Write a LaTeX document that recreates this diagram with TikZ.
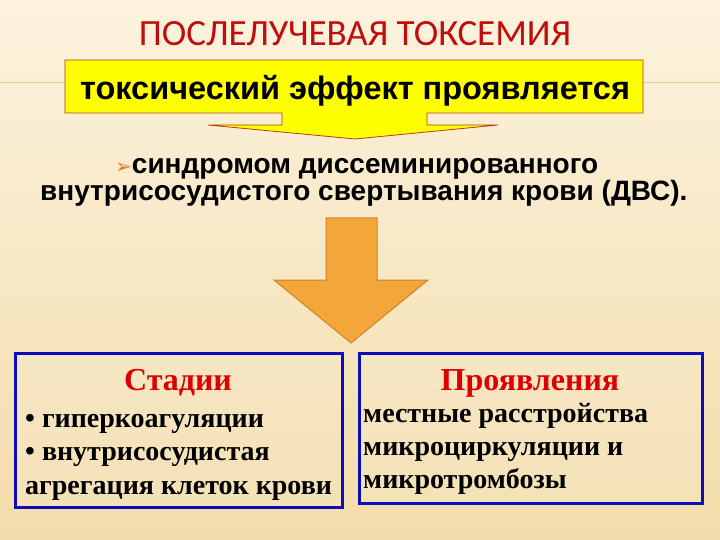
\documentclass[tikz,border=0pt]{standalone}
\usepackage{fontspec}
\setmainfont{Liberation Serif}
\newfontfamily\arialfont{Liberation Sans}
\newfontfamily\calibrifont{Carlito}
\newfontfamily\symbfont{DejaVu Sans}
\usepackage{tikz}
\usetikzlibrary{positioning}
\definecolor{bgtop}{RGB}{252,243,222}
\definecolor{bgbot}{RGB}{242,220,170}
\definecolor{bgline}{RGB}{234,206,150}
\definecolor{titlered}{RGB}{192,14,14}
\definecolor{labelred}{RGB}{222,0,0}
\definecolor{calloutyellow}{RGB}{255,255,0}
\definecolor{calloutedge}{RGB}{180,60,25}
\definecolor{arroworange}{RGB}{243,166,58}
\definecolor{arrowedge}{RGB}{206,132,40}
\definecolor{frameblue}{RGB}{12,12,185}
\definecolor{bulletorange}{RGB}{226,120,40}

\begin{document}
\begin{tikzpicture}[
    x=1pt, y=-1pt,
    headline/.style={font=\calibrifont\fontsize{37}{40}\selectfont, text=titlered, anchor=base, inner sep=0pt},
    calltext/.style={font=\arialfont\bfseries\fontsize{32.5}{36}\selectfont, anchor=base, inner sep=0pt},
    dvstext/.style={font=\arialfont\bfseries\fontsize{28}{30}\selectfont, anchor=base west, inner sep=0pt},
    framebox/.style={draw=frameblue, line width=3pt, fill=white, fill opacity=0.12, inner sep=0pt},
    boxhead/.style={font=\bfseries\fontsize{32}{34}\selectfont, text=labelred, anchor=base, inner sep=0pt},
    boxtext/.style={font=\bfseries\fontsize{28}{33}\selectfont, anchor=base west, inner sep=0pt}
]
    % background
    \shade[top color=bgtop, bottom color=bgbot] (0,0) rectangle (720,540);
    \useasboundingbox (0,0) rectangle (720,540);
    \draw[bgline, line width=1pt] (0,83) -- (720,83);

    \node[headline] (title) at (355,46) {ПОСЛЕЛУЧЕВАЯ ТОКСЕМИЯ};

    % callout
    \filldraw[fill=calloutyellow, draw=calloutedge, line width=0.8pt]
        (65,60) -- (643,60) -- (643,113) -- (427,113) -- (427,125) -- (498,125)
        -- (355,139) -- (208,125) -- (282,125) -- (282,113) -- (65,113) -- cycle;
    \node[calltext] (effect) at (355,100) {токсический эффект проявляется};

    \node[dvstext] (dvsA) at (115,174) {{\symbfont\color{bulletorange}\fontsize{20}{22}\selectfont ➢}синдромом диссеминированного};
    \node[dvstext] (dvsB) at (40,201) {внутрисосудистого свертывания крови (ДВС).};

    % block arrow
    \filldraw[fill=arroworange, draw=arrowedge, line width=1pt]
        (326,218) -- (377,218) -- (377,280) -- (428,280) -- (351,343)
        -- (274,280) -- (326,280) -- cycle;

    % two frames
    \node[framebox, minimum width=327pt, minimum height=154pt] (stages) at (178.5,430) {};
    \node[framebox, minimum width=343pt, minimum height=150pt] (signs) at (530.5,428) {};

    \node[boxhead] (stagehead) at (178,390) {Стадии};
    \node[boxtext] (stageA) at (25,427) {• гиперкоагуляции};
    \node[boxtext] (stageB) at (25,460) {• внутрисосудистая};
    \node[boxtext] (stageC) at (25,494) {агрегация клеток крови};

    \node[boxhead] (signhead) at (530,390) {Проявления};
    \node[boxtext] (signA) at (363,422) {местные расстройства};
    \node[boxtext] (signB) at (363,455) {микроциркуляции и};
    \node[boxtext] (signC) at (363,488) {микротромбозы};
\end{tikzpicture}
\end{document}
